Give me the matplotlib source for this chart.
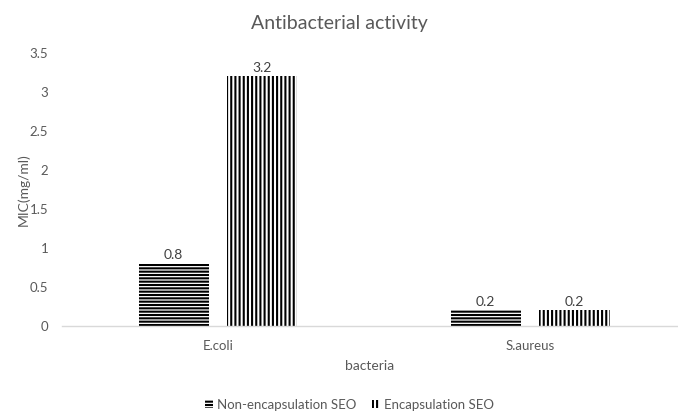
import matplotlib
matplotlib.use("Agg")
import matplotlib.pyplot as plt
import numpy as np

categories = ["E.coli", "S.aureus"]
series_names = ["Non-encapsulation SEO", "Encapsulation SEO"]
non_encap = [0.8, 0.2]
encap = [3.2, 0.2]
yticks = [0, 0.5, 1, 1.5, 2, 2.5, 3, 3.5]
ytick_labels = ["0", "0.5", "1", "1.5", "2", "2.5", "3", "3.5"]

plt.rcParams['font.family'] = ['Lato', 'DejaVu Sans']
plt.rcParams['hatch.linewidth'] = 1.5
plt.rcParams['hatch.color'] = 'black'

fig = plt.figure(figsize=(6.78, 4.12), dpi=100)
ax = fig.add_axes([62 / 678, 0.2087, 616 / 678, 0.6626])

x = np.arange(len(categories))
w = 0.225
off = 0.142
gray = '#595959'

b1 = ax.bar(x - off, non_encap, w, color='white', edgecolor='black', linewidth=0, hatch='-----', label=series_names[0])
b2 = ax.bar(x + off, encap, w, color='white', edgecolor='black', linewidth=0, hatch='||||', label=series_names[1])

for bars, vals in ((b1, non_encap), (b2, encap)):
    for r, v in zip(bars, vals):
        ax.text(r.get_x() + r.get_width() / 2, v + 0.03, f"{v:g}", ha='center', va='bottom', fontsize=10, color='#404040')

ax.set_xlim(-0.5, 1.474)
ax.set_ylim(0, 3.5)
ax.set_yticks(yticks)
ax.set_yticklabels(ytick_labels)
ax.set_xticks(x)
ax.set_xticklabels(categories)
ax.tick_params(axis='both', length=0, colors=gray, labelsize=9.5)
ax.tick_params(axis='x', pad=10)
ax.tick_params(axis='y', pad=10)
for s in ['top', 'right', 'left']:
    ax.spines[s].set_visible(False)
ax.spines['bottom'].set_color('#d9d9d9')
ax.spines['bottom'].set_linewidth(1)

ax.set_xlabel('bacteria', fontsize=10, color=gray, labelpad=6)
ax.set_ylabel('MIC(mg/ml)', fontsize=10, color=gray, labelpad=0)
fig.text(0.5, 0.944, 'Antibacterial activity', ha='center', va='center', fontsize=14, color=gray)

leg = fig.legend(handles=[b1, b2], loc='center', bbox_to_anchor=(0.515, 0.018), ncol=2, frameon=False,
                 fontsize=9.5, handlelength=0.6, handleheight=0.6, handletextpad=0.3, columnspacing=1.2)
for t in leg.get_texts():
    t.set_color(gray)

fig.savefig('out.png', dpi=100)
